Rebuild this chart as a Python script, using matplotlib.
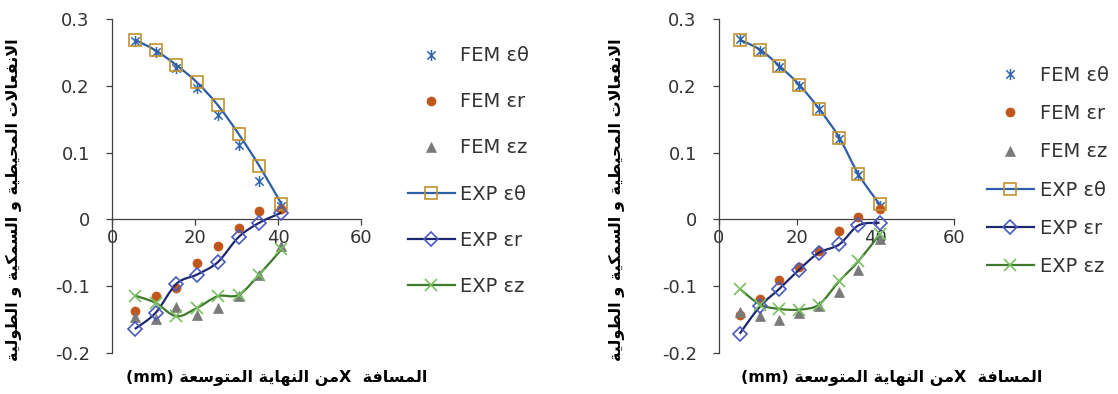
import re
import numpy as np
import matplotlib
matplotlib.use('Agg')
import matplotlib.pyplot as plt
from matplotlib.path import Path
from matplotlib.patches import PathPatch
from matplotlib.lines import Line2D

# ---- data (x in mm, strain) ----
x_left = [5.5, 10.5, 15.5, 20.5, 25.5, 30.5, 35.5, 40.8]
fem_th_left = [0.267, 0.251, 0.226, 0.196, 0.157, 0.112, 0.057, 0.020]
fem_r_left = [-0.1375, -0.114, -0.1025, -0.066, -0.040, -0.0125, 0.0125, 0.015]
fem_z_left = [-0.146, -0.149, -0.131, -0.1425, -0.1325, -0.115, -0.0825, -0.04]
exp_th_left = [0.269, 0.253, 0.231, 0.205, 0.171, 0.128, 0.080, 0.0235]
exp_r_left = [-0.164, -0.14, -0.0965, -0.0825, -0.064, -0.0265, -0.005, 0.010]
exp_z_left = [-0.114, -0.125, -0.145, -0.1325, -0.115, -0.113, -0.0825, -0.045]

x_right = [5.3, 10.5, 15.4, 20.5, 25.5, 30.7, 35.6, 41.0]
fem_th_right = [0.27, 0.252, 0.228, 0.200, 0.165, 0.121, 0.067, 0.02]
fem_r_right = [-0.1425, -0.119, -0.091, -0.071, -0.0475, -0.0175, 0.004, 0.015]
fem_z_right = [-0.138, -0.144, -0.15, -0.14, -0.129, -0.109, -0.075, -0.03]
exp_th_right = [0.269, 0.254, 0.230, 0.2015, 0.166, 0.1225, 0.0675, 0.0225]
exp_r_right = [-0.171, -0.13, -0.104, -0.075, -0.05, -0.0375, -0.009, -0.005]
exp_z_right = [-0.104, -0.1275, -0.134, -0.135, -0.1275, -0.0925, -0.0625, -0.0225]

labels = ['FEM εθ', 'FEM εr', 'FEM εz', 'EXP εθ', 'EXP εr', 'EXP εz']
xticks = [0, 20, 40, 60]
xtick_labels = ['0', '20', '40', '60']
yticks = [-0.2, -0.1, 0, 0.1, 0.2, 0.3]
ytick_labels = ['-0.2', '-0.1', '0', '0.1', '0.2', '0.3']
ylab = 'الانفعالات المحيطية و السمكية و الطولية'
xlab = 'المسافة  Xمن النهاية المتوسعة (mm)'

# ---- tiny arabic shaper (matplotlib has no complex text layout) ----
AR = {'ا': (0xFE8D, 2), 'ب': (0xFE8F, 4), 'ة': (0xFE93, 2), 'ت': (0xFE95, 4),
      'ح': (0xFEA1, 4), 'س': (0xFEB1, 4), 'ط': (0xFEC1, 4), 'ع': (0xFEC9, 4),
      'ف': (0xFED1, 4), 'ك': (0xFED9, 4), 'ل': (0xFEDD, 4), 'م': (0xFEE1, 4),
      'ن': (0xFEE5, 4), 'ه': (0xFEE9, 4), 'و': (0xFEED, 2), 'ي': (0xFEF1, 4)}


def shape(word):
    out = []
    prev = False
    i = 0
    while i < len(word):
        c = word[i]
        if c == 'ل' and i + 1 < len(word) and word[i + 1] == 'ا':
            out.append(chr(0xFEFC if prev else 0xFEFB))
            prev = False
            i += 2
            continue
        base, n = AR[c]
        fwd = n == 4 and i + 1 < len(word) and word[i + 1] in AR
        out.append(chr(base + (1 if prev else 0) + (2 if fwd else 0)))
        prev = fwd
        i += 1
    return ''.join(out)


def visual(text):
    toks = []
    for t in text.split(' '):
        runs = re.findall(r'[\u0600-\u06FF]+|[^\u0600-\u06FF]+', t)
        runs = [shape(r)[::-1] if r[0] in AR else r for r in runs]
        toks.append(''.join(reversed(runs)))
    return ' '.join(reversed(toks))


def smooth(x, y):
    # excel-like smoothed line as bezier path through the points
    p = np.column_stack([x, y])
    q = np.vstack([p[0], p, p[-1]])
    verts = [p[0]]
    codes = [Path.MOVETO]
    for i in range(len(p) - 1):
        c1 = q[i + 1] + (q[i + 2] - q[i]) / 6
        c2 = q[i + 2] - (q[i + 3] - q[i + 1]) / 6
        verts += [c1, c2, q[i + 2]]
        codes += [Path.CURVE4] * 3
    return Path(verts, codes)


star = Path([(0, -1), (0, 1), (-0.75, -0.75), (0.75, 0.75), (-0.75, 0.75), (0.75, -0.75)],
            [Path.MOVETO, Path.LINETO] * 3)

c_star = '#3466AE'
c_circ = '#C0561A'
c_tri = '#7A7A7A'
c_sq = '#C0922E'
c_l1 = '#2E5EA6'
c_dia = '#4A5BC0'
c_l2 = '#1E2670'
c_x = '#78C060'
c_l3 = '#3E7A2C'
txt = '#333333'

fem_style = [dict(marker=star, ms=8, mec=c_star, mfc='none', mew=1.1),
             dict(marker='o', ms=6.5, mec=c_circ, mfc=c_circ, mew=0.5),
             dict(marker='^', ms=7.5, mec=c_tri, mfc=c_tri, mew=0.5)]
exp_style = [(c_l1, dict(marker='s', ms=8, mec=c_sq, mfc='none', mew=1.2)),
             (c_l2, dict(marker='D', ms=7.5, mec=c_dia, mfc='none', mew=1.2)),
             (c_l3, dict(marker='x', ms=8, mec=c_x, mew=1.2))]

fig = plt.figure(figsize=(11.18, 3.94), dpi=100)
axL = fig.add_axes([112 / 1118, 41 / 394, 249 / 1118, 334 / 394])
axR = fig.add_axes([719 / 1118, 41 / 394, 235 / 1118, 334 / 394])


def panel(ax, x, fem, exp, leg_x, spacing, ylab_x, xlab_x):
    for ys, st in zip(fem, fem_style):
        ax.plot(x, ys, ls='none', zorder=3, **st)
    for ys, (lc, st) in zip(exp, exp_style):
        ax.add_patch(PathPatch(smooth(x, ys), fill=False, edgecolor=lc, lw=1.6, zorder=4))
        ax.plot(x, ys, ls='none', zorder=5, **st)
    ax.set_xlim(0, 60)
    ax.set_ylim(-0.2, 0.3)
    ax.set_xticks(xticks)
    ax.set_xticklabels(xtick_labels)
    ax.set_yticks(yticks)
    ax.set_yticklabels(ytick_labels)
    for s in ['top', 'right']:
        ax.spines[s].set_visible(False)
    ax.spines['bottom'].set_position(('data', 0))
    for s in ['left', 'bottom']:
        ax.spines[s].set_color('#404040')
        ax.spines[s].set_linewidth(0.9)
    ax.tick_params(direction='out', length=4, width=0.9, color='#404040',
                   labelcolor=txt, labelsize=13)
    ax.tick_params(axis='y', pad=12)
    ax.tick_params(axis='x', pad=3)
    ax.patch.set_alpha(0)
    ax.set_ylabel(visual(ylab), fontsize=11.5, fontweight='bold', family='DejaVu Sans', color='black')
    ax.yaxis.set_label_coords(ylab_x, 0.46)
    ax.set_xlabel(visual(xlab), fontsize=11.5, fontweight='bold', family='DejaVu Sans', color='black')
    ax.xaxis.set_label_coords(xlab_x, -0.05)

    handles = [Line2D([], [], ls='none', **st) for st in fem_style]
    handles += [Line2D([], [], color=lc, lw=1.6, **st) for lc, st in exp_style]
    leg = ax.legend(handles, labels, loc='center left', bbox_to_anchor=(leg_x, 1 - 171 / 394),
                    bbox_transform=fig.transFigure, frameon=False, fontsize=14,
                    borderpad=0, borderaxespad=0, handlelength=2.4, handletextpad=0.3,
                    labelspacing=spacing, numpoints=1)
    for t in leg.get_texts():
        t.set_color(txt)


panel(axL, x_left, [fem_th_left, fem_r_left, fem_z_left],
      [exp_th_left, exp_r_left, exp_z_left], 408 / 1118, 1.39, -0.36, 0.663)
panel(axR, x_right, [fem_th_right, fem_r_right, fem_z_right],
      [exp_th_right, exp_r_right, exp_z_right], 987 / 1118, 0.99, -0.40, 0.734)

fig.savefig('out.png', dpi=100)
